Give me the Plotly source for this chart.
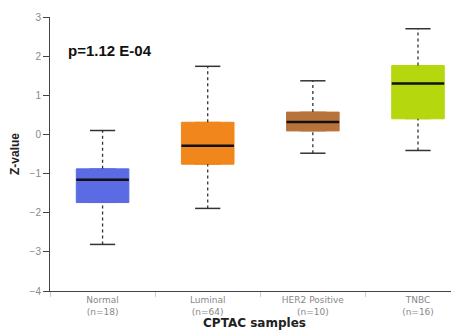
import plotly.graph_objects as go

categories = ["Normal", "Luminal", "HER2 Positive", "TNBC"]
counts = [18, 64, 10, 16]
lower = [-2.81, -1.89, -0.48, -0.41]
q1 = [-1.74, -0.76, 0.09, 0.40]
median = [-1.16, -0.29, 0.32, 1.30]
q3 = [-0.88, 0.31, 0.57, 1.76]
upper = [0.10, 1.74, 1.37, 2.70]
colors = ["#5A6BE3", "#F0861C", "#B8733A", "#B4D70E"]

tick_text = [f"{c}<br>(n={n})" for c, n in zip(categories, counts)]

fig = go.Figure()
box_w = 0.5
cap_w = 0.12
for i in range(len(categories)):
    # dashed whiskers
    for a, b in [(lower[i], q1[i]), (q3[i], upper[i])]:
        fig.add_trace(go.Scatter(x=[i, i], y=[a, b], mode="lines",
                                 line=dict(color="#333333", width=1.3, dash="dot"),
                                 showlegend=False, hoverinfo="skip"))
    # caps
    for v in [lower[i], upper[i]]:
        fig.add_trace(go.Scatter(x=[i - cap_w, i + cap_w], y=[v, v], mode="lines",
                                 line=dict(color="#333333", width=1.5),
                                 showlegend=False, hoverinfo="skip"))
    fig.add_trace(go.Box(x=[i], q1=[q1[i]], median=[median[i]], q3=[q3[i]],
                         lowerfence=[q1[i]], upperfence=[q3[i]],
                         width=box_w, fillcolor=colors[i],
                         line=dict(color=colors[i], width=1),
                         showlegend=False, hoverinfo="skip"))
    fig.add_trace(go.Scatter(x=[i - box_w / 2, i + box_w / 2], y=[median[i], median[i]],
                             mode="lines", line=dict(color="#111111", width=2.5),
                             showlegend=False, hoverinfo="skip"))

fig.add_annotation(text="<b>p=1.12 E-04</b>", xref="paper", yref="paper",
                   x=0.04, y=0.876, xanchor="left", yanchor="middle", showarrow=False,
                   font=dict(family="Liberation Sans, Arial", size=15, color="#111111"))

# page body has an 8px default margin; compensate so the plot lands where the reference has it
fig.update_layout(
    width=451, height=324,
    margin=dict(l=42, r=0, t=9, b=41),
    plot_bgcolor="white", paper_bgcolor="white",
    font=dict(family="Liberation Sans, Arial", color="#888888"),
    xaxis=dict(range=[-0.5, 3.39], tickmode="array", tickvals=list(range(4)),
               ticktext=tick_text, ticks="", showgrid=False, zeroline=False,
               showline=True, linecolor="#444444", linewidth=1, automargin=False,
               tickfont=dict(family="DejaVu Sans", size=9, color="#888888"),
               minor=dict(tickmode="array", tickvals=[-0.5, 0.5, 1.5, 2.5], ticks="outside",
                          ticklen=5, tickcolor="#cccccc", showgrid=False),
               title=dict(text="<b>CPTAC samples</b>", standoff=2,
                          font=dict(family="DejaVu Sans", size=12, color="#222222"))),
    yaxis=dict(range=[-4, 3], tickvals=list(range(-4, 4)), ticks="outside", ticklen=6,
               tickcolor="#444444", showgrid=False, zeroline=False, automargin=False,
               showline=True, linecolor="#444444", linewidth=1,
               tickfont=dict(size=10, color="#888888"),
               title=dict(text="<b>Z-value</b>", standoff=10,
                          font=dict(family="Liberation Sans, Arial", size=12, color="#222222"))),
)

fig.write_html("out.html")
